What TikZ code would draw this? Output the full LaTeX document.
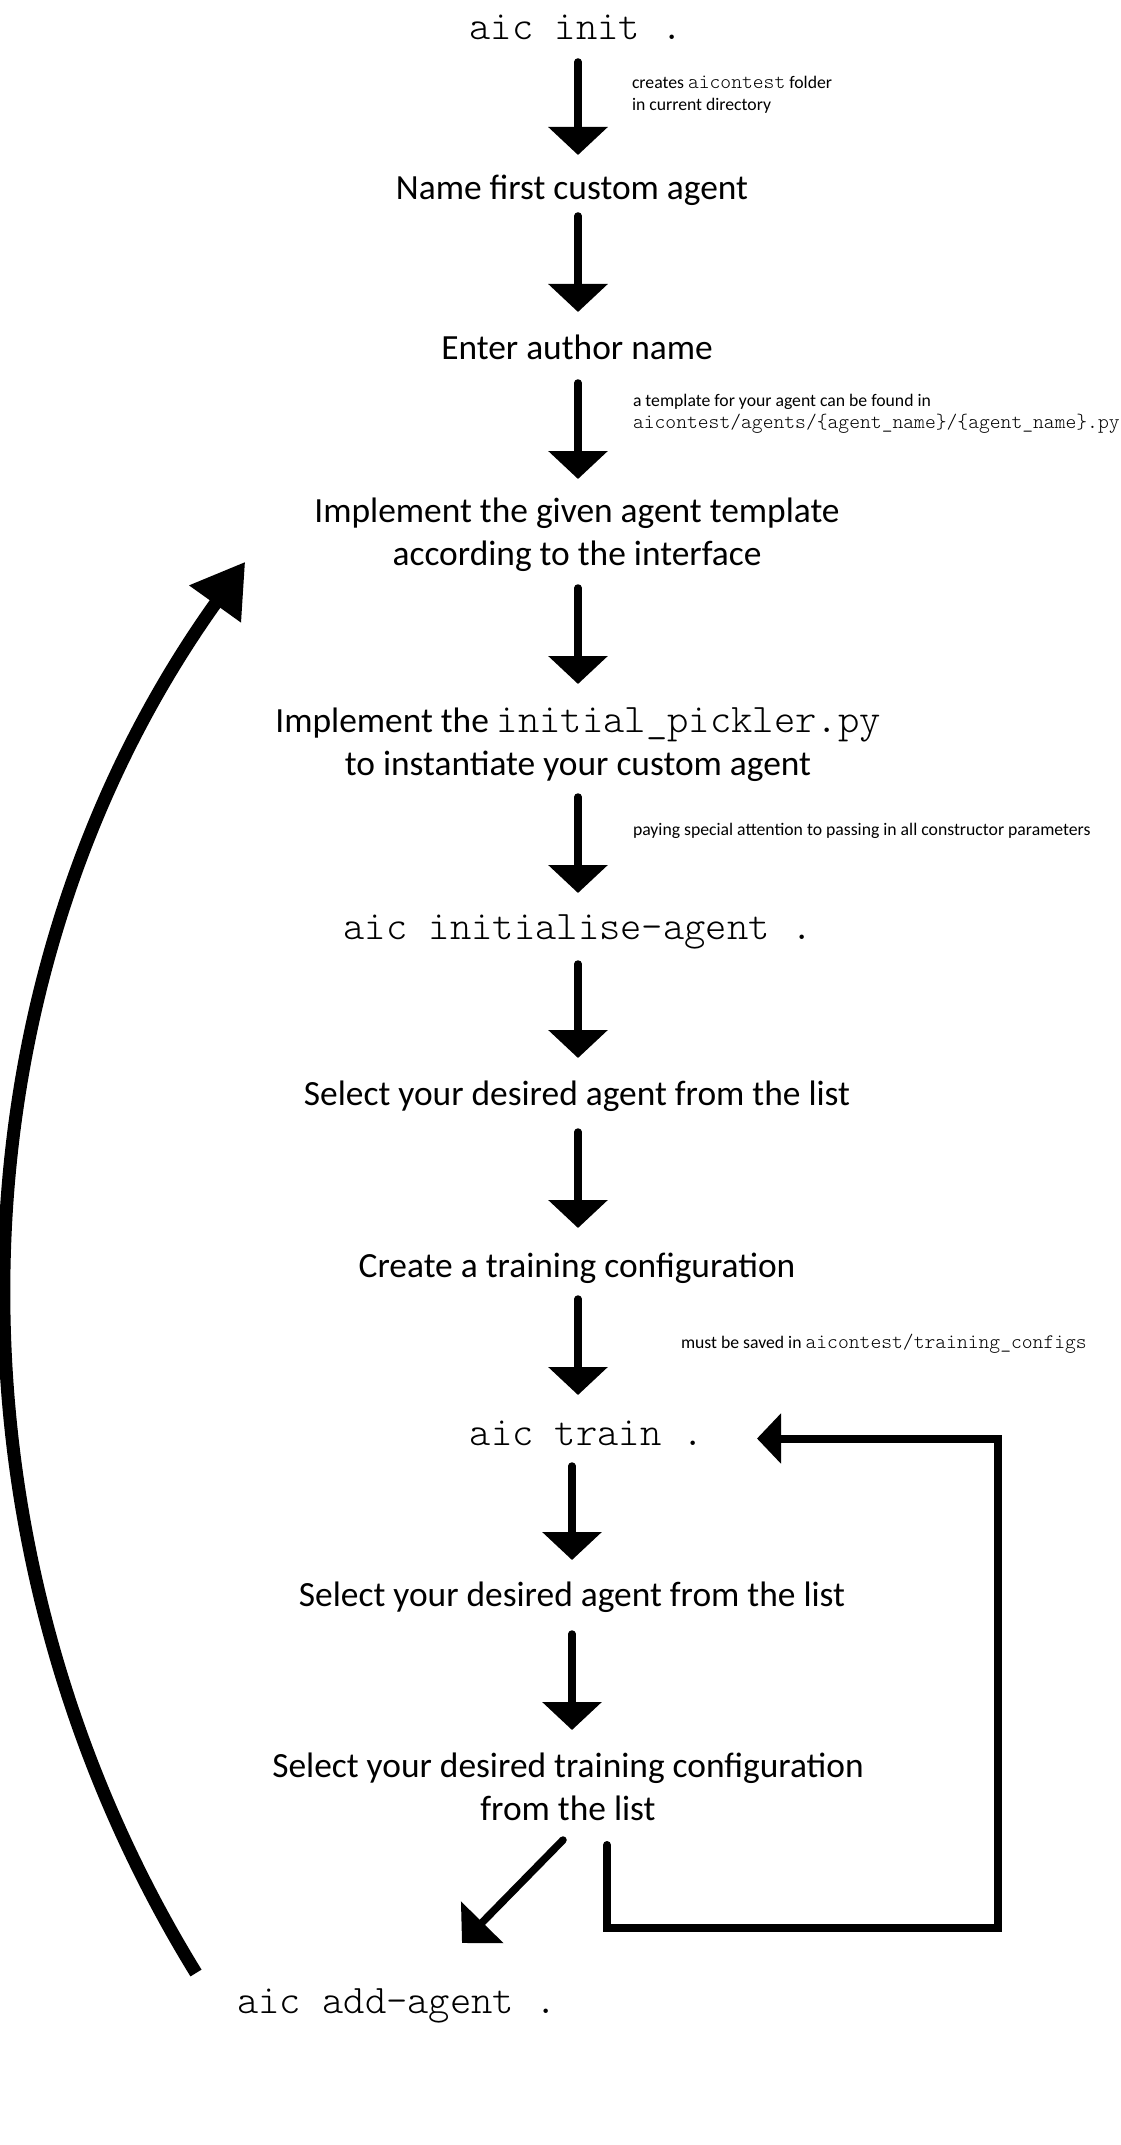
\documentclass[tikz,border=0pt]{standalone}
\usepackage{fontspec}
\setmainfont{Carlito}
\setmonofont{lmmonolt10-regular.otf}
\usetikzlibrary{arrows.meta}
\newcommand\bcode[1]{{\fontsize{20.3pt}{24pt}\selectfont\ttfamily #1}}
\newcommand\scode[1]{{\fontsize{10.3pt}{12pt}\selectfont\ttfamily #1}}
\begin{document}
\begin{tikzpicture}[x=0.5pt,y=-0.5pt,
  every node/.style={inner sep=0pt, outer sep=0pt},
  stepnode/.style={font=\fontsize{17.7pt}{21.5pt}\selectfont, align=center},
  cmd/.style={font=\fontsize{20.3pt}{24pt}\selectfont\ttfamily},
  note/.style={font=\fontsize{8.85pt}{11pt}\selectfont, align=left, anchor=west},
  flow/.style={line width=3.75pt, line cap=round, -{Triangle[width=29pt,length=14pt]}},
  diag/.style={line width=3.75pt, line cap=round, -{Triangle[width=29pt,length=14.5pt]}},
  loopline/.style={line width=4pt, line cap=round, -{Triangle[width=24.5pt,length=12pt]}},
  back/.style={line width=6.5pt, -{Triangle[width=30pt,length=26pt]}}
]
\useasboundingbox[fill=white] (0,0) rectangle (1120,2145);

% nodes
\node[cmd] (init) at (576,27) {aic init .};
\node[stepnode] (name) at (572,190) {Name first custom agent};
\node[stepnode] (author) at (577,347) {Enter author name};
\node[stepnode] (tmpl) at (577,535) {Implement the given agent template\\according to the interface};
\node[stepnode] (pick) at (578,745) {Implement the \bcode{initial\_pickler.py}\\to instantiate your custom agent};
\node[cmd] (initag) at (578,932) {aic initialise-agent .};
\node[stepnode] (sel1) at (577,1096) {Select your desired agent from the list};
\node[stepnode] (create) at (577,1268) {Create a training configuration};
\node[cmd] (train) at (587,1433) {aic train .};
\node[stepnode] (sel2) at (572,1597) {Select your desired agent from the list};
\node[stepnode] (selcfg) at (568,1787) {Select your desired training configuration\\from the list};
\node[cmd] (add) at (397,2006) {aic add-agent .};

% notes
\node[note] (n1) at (632,95) {creates \scode{aicontest} folder\\in current directory};
\node[note] (n3) at (633,414) {a template for your agent can be found in\\\scode{aicontest/agents/\{agent\_name\}/\{agent\_name\}.py}};
\node[note] (n5) at (633,831) {paying special attention to passing in all constructor parameters};
\node[note] (n8) at (681,1344) {must be saved in \scode{aicontest/training\_configs}};

% vertical axes
\coordinate (ax) at (578,0);
\coordinate (bx) at (572,0);

\draw[flow, shorten <=17.5pt, shorten >=17.5pt] (ax |- init) -- (ax |- name);
\draw[flow, shorten <=13pt, shorten >=17.5pt] (ax |- name) -- (ax |- author);
\draw[flow, shorten <=18pt, shorten >=28pt] (ax |- author) -- (ax |- tmpl);
\draw[flow, shorten <=26.5pt, shorten >=30.5pt] (ax |- tmpl) -- (ax |- pick);
\draw[flow, shorten <=26pt, shorten >=19.5pt] (ax |- pick) -- (ax |- initag);
\draw[flow, shorten <=16pt, shorten >=19pt] (ax |- initag) -- (ax |- sel1);
\draw[flow, shorten <=18pt, shorten >=20pt] (ax |- sel1) -- (ax |- create);
\draw[flow, shorten <=15.5pt, shorten >=19pt] (ax |- create) -- (ax |- train);
\draw[flow, shorten <=16.5pt, shorten >=18.5pt] (bx |- train) -- (bx |- sel2);
\draw[flow, shorten <=18.5pt, shorten >=28.5pt] (bx |- sel2) -- (bx |- selcfg);

% diagonal arrow to add-agent
\coordinate (d1) at (563,1840);
\coordinate (d2) at (462,1943);
\draw[diag] (d1) -- (d2);

% loop back to train
\coordinate (l1) at (607,1845);
\coordinate (l2) at (998,1928);
\coordinate (l3) at (757,1438.5);
\draw[loopline] (l1) |- (l2) |- (l3);

% big curved arrow back to template
\coordinate (c1) at (196,1973);
\draw[back] (c1) arc[start angle=211.6, end angle=144.4, radius=638pt];
\end{tikzpicture}
\end{document}
